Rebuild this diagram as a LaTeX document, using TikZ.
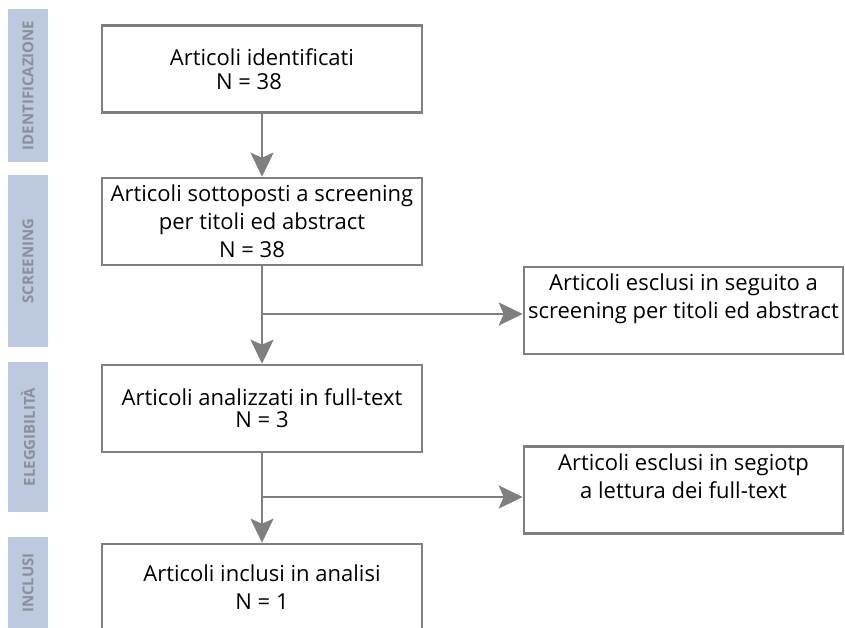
\documentclass[tikz,border=0pt]{standalone}
\usepackage{fontspec}
\setmainfont{Open Sans}
\usepackage{tikz}
\usetikzlibrary{arrows.meta,positioning}
\definecolor{linegray}{HTML}{7F7F7F}
\definecolor{barblue}{HTML}{BDC9DE}
\definecolor{bartext}{HTML}{8A8F99}
\tikzset{
  basic/.style  = {draw=linegray, line width=2.6pt, rectangle, text=black,
                   font=\fontsize{22}{28}\selectfont, align=center},
  main/.style   = {basic, minimum width=320pt, minimum height=87pt, inner sep=2pt},
  side/.style   = {basic, minimum width=319pt, minimum height=87pt, inner sep=2pt},
  phase/.style  = {fill=barblue, rotate=90, minimum height=40pt, inner sep=0pt,
                   text=bartext, font=\bfseries\fontsize{15}{17}\selectfont},
  flow/.style   = {draw=linegray, line width=2.6pt,
                   -{Stealth[width=23pt,length=24pt,inset=5pt]}}
}

\begin{document}
\begin{tikzpicture}[x=1pt,y=-1pt]
\useasboundingbox (0,0) rectangle (845,628);

% phase bars on the left
\foreach \name/\y/\len/\txt in {p1/85.5/153/IDENTIFICAZIONE,
                                p2/261/172/SCREENING,
                                p3/437/150/ELEGGIBILITÀ,
                                p4/583/92/INCLUSI}
  \node[phase, minimum width=\len pt] (\name) at (28,\y) {\txt};

% main column
\node[main] (b1) at (262,69) {Articoli identificati\\[-4pt]N = 38\hspace*{26pt}};
\node[main] (b2) at (262,221.5) {Articoli sottoposti a screening\\per titoli ed abstract\\N = 38\hspace*{20pt}};
\node[main] (b3) at (262,408.5) {Articoli analizzati in full-text\\[-6pt]N = 3};
\node[main] (b4) at (262,587.5) {Articoli inclusi in analisi\\N = 1};

% excluded boxes
\node[side] (e1) at (683.5,310.5) {Articoli esclusi in seguito a\\screening per titoli ed abstract\\ \mbox{}};
\node[side] (e2) at (683.5,490) {Articoli esclusi in segiotp\\a lettura dei full-text\\ \mbox{}};

% branch points
\coordinate (s1) at (b2.south |- 0,314);
\coordinate (s2) at (b3.south |- 0,497);

% connectors
\draw[flow] (b1) -- (b2);
\draw[flow] (b2) -- (b3);
\draw[flow] (b3) -- (b4);
\draw[flow] (s1) -- (s1 -| e1.west);
\draw[flow] (s2) -- (s2 -| e2.west);

\end{tikzpicture}
\end{document}
